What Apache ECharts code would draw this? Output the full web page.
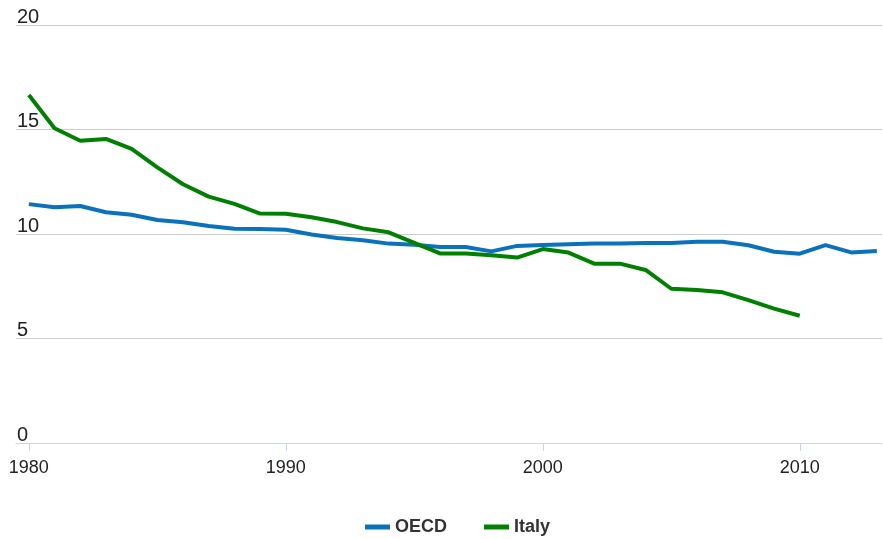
<!DOCTYPE html>
<html>
<head>
<meta charset="utf-8">
<script src="https://cdn.jsdelivr.net/npm/echarts@6/dist/echarts.min.js"></script>
<style>
html,body{margin:0;padding:0;background:#fff;}
#chart{width:883px;height:539px;}
</style>
</head>
<body>
<div id="chart"></div>
<script>
var years = [1980,1981,1982,1983,1984,1985,1986,1987,1988,1989,1990,1991,1992,1993,1994,1995,1996,1997,1998,1999,2000,2001,2002,2003,2004,2005,2006,2007,2008,2009,2010,2011,2012,2013];
var oecd = [11.43,11.28,11.34,11.04,10.92,10.67,10.56,10.38,10.25,10.24,10.2,9.98,9.81,9.7,9.54,9.49,9.38,9.38,9.17,9.43,9.47,9.51,9.54,9.54,9.57,9.57,9.63,9.63,9.46,9.15,9.06,9.47,9.12,9.19];
var italy = [16.65,15.06,14.46,14.55,14.07,13.19,12.38,11.79,11.44,10.98,10.97,10.8,10.57,10.27,10.08,9.58,9.07,9.07,8.98,8.87,9.28,9.11,8.58,8.58,8.28,7.38,7.32,7.21,6.84,6.43,6.09];
var xTicks = [1980,1990,2000,2010];
var yTicks = [0,5,10,15,20];

function pairs(vals){ return vals.map(function(v,i){ return [years[i], v]; }); }

var chart = echarts.init(document.getElementById('chart'));
chart.setOption({
  animation:false,
  textStyle:{fontFamily:'Liberation Sans, Arial, sans-serif'},
  grid:{left:16,right:1,top:25,bottom:96,containLabel:false},
  legend:{
    top:518,left:365,padding:0,
    icon:'rect',
    itemWidth:25,itemHeight:5,itemGap:37,
    textStyle:{fontSize:18,fontWeight:'bold',color:'#333'},
    data:['OECD','Italy']
  },
  xAxis:{
    type:'value',min:1979.5,max:2013.2,
    axisLine:{lineStyle:{color:'#ccd6eb',width:1}},
    axisTick:{show:true,length:8,lineStyle:{color:'#ccd6eb'},customValues:xTicks},
    axisLabel:{fontSize:18,color:'#222',margin:16,customValues:xTicks,formatter:function(v){return String(v);}},
    splitLine:{show:false}
  },
  yAxis:{
    type:'value',min:0,max:20,interval:5,
    axisLine:{show:false},axisTick:{show:false},
    axisLabel:{inside:true,align:'left',verticalAlign:'bottom',margin:1,fontSize:20,lineHeight:16,color:'#222',customValues:yTicks},
    splitLine:{lineStyle:{color:'#cccccc',width:1}}
  },
  series:[
    {name:'OECD',type:'line',data:pairs(oecd),symbol:'none',lineStyle:{width:4,color:'#0a72bd'},itemStyle:{color:'#0a72bd'}},
    {name:'Italy',type:'line',data:pairs(italy),symbol:'none',lineStyle:{width:4,color:'#008000'},itemStyle:{color:'#008000'}}
  ]
});
</script>
</body>
</html>
